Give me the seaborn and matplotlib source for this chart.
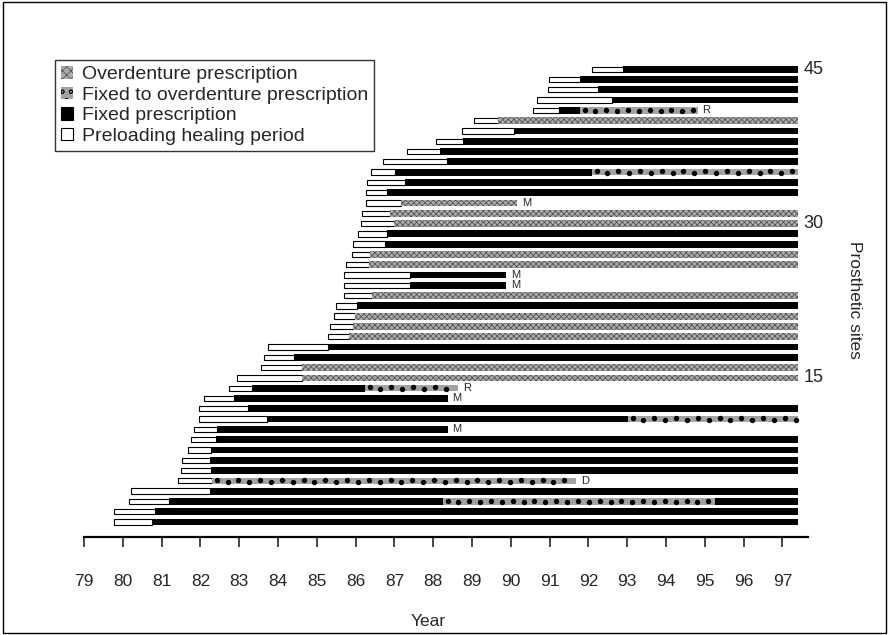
import matplotlib
matplotlib.use('Agg')
import matplotlib.pyplot as plt
from matplotlib.patches import Patch, Rectangle
import seaborn as sns
import pandas as pd
import numpy as np

# prosthetic sites, bottom (1) to top (45)
sites = list(range(1, 46))
preload_start = [79.77, 79.77, 80.16, 80.21, 81.42, 81.50, 81.53, 81.68, 81.76, 81.84,
                 81.96, 81.96, 82.09, 82.74, 82.94, 83.56, 83.64, 83.74, 85.29, 85.34,
                 85.44, 85.49, 85.70, 85.70, 85.70, 85.75, 85.91, 85.93, 86.06, 86.14,
                 86.16, 86.27, 86.27, 86.29, 86.40, 86.71, 87.32, 88.07, 88.74, 89.05,
                 90.57, 90.68, 90.96, 90.98, 92.09]
load_start = [80.75, 80.83, 81.19, 82.25, 82.30, 82.27, 82.25, 82.27, 82.40, 82.43,
              83.72, 83.23, 82.87, 83.33, 84.62, 84.62, 84.41, 85.29, 85.83, 85.93,
              85.98, 86.04, 86.42, 87.40, 87.40, 86.35, 86.37, 86.76, 86.81, 86.99,
              86.89, 87.17, 86.81, 87.27, 87.02, 88.36, 88.18, 88.77, 90.08, 89.67,
              91.24, 92.61, 92.25, 91.78, 92.89]
# F = fixed, O = overdenture, FO = fixed to overdenture
prescription = ['F', 'F', 'F/FO/F', 'F', 'FO', 'F', 'F', 'F', 'F', 'F',
                'F/FO', 'F', 'F', 'F/FO', 'O', 'O', 'F', 'F', 'O', 'O',
                'O', 'F', 'O', 'F', 'F', 'O', 'O', 'F', 'F', 'O',
                'O', 'O', 'F', 'F', 'F/FO', 'F', 'F', 'F', 'F', 'O',
                'F/FO', 'F', 'F', 'F', 'F']
change_years = {3: [88.25, 95.26], 11: [93.02], 14: [86.24], 35: [92.09], 41: [91.78]}
stop_year = {5: 91.68, 10: 88.38, 13: 88.38, 14: 88.64, 24: 89.88, 25: 89.88,
             32: 90.16, 41: 94.82}
stop_reason = {5: 'D', 10: 'M', 13: 'M', 14: 'R', 24: 'M', 25: 'M', 32: 'M', 41: 'R'}
study_end = 97.4

years = list(range(79, 98))
site_ticks = [15, 30, 45]
legend_labels = ['Overdenture prescription', 'Fixed to overdenture prescription',
                 'Fixed prescription', 'Preloading healing period']

# long table of segments
rows = []
for i, s in enumerate(sites):
    rows.append((s, 'P', preload_start[i], load_start[i]))
    kinds = prescription[i].split('/')
    bounds = [load_start[i]] + change_years.get(s, []) + [stop_year.get(s, study_end)]
    for k, kind in enumerate(kinds):
        rows.append((s, kind, bounds[k], bounds[k + 1]))
seg = pd.DataFrame(rows, columns=['site', 'kind', 'start', 'end'])

styles = {
    'P': dict(facecolor='white', edgecolor='black', hatch=None, height=0.52, lw=0.8),
    'O': dict(facecolor='#ababab', edgecolor='#4a4a4a', hatch='xxxxxx', height=0.66, lw=0),
    'FO': dict(facecolor='#a2a2a2', edgecolor='#8a8a8a', hatch=None, height=0.62, lw=0),
    'F': dict(facecolor='black', edgecolor='black', hatch=None, height=0.66, lw=0),
}

sns.set_style('white')
plt.rcParams['font.family'] = ['Liberation Sans', 'DejaVu Sans']
plt.rcParams['hatch.linewidth'] = 0.5

fig = plt.figure(figsize=(8.89, 6.35), dpi=100)
ax = fig.add_axes([84 / 889, 1 - 537 / 635, (808 - 84) / 889, (537 - 62) / 635])

for kind in ['P', 'O', 'F', 'FO']:
    d = seg[seg['kind'] == kind]
    st = styles[kind]
    ax.barh(d['site'], d['end'] - d['start'], left=d['start'], height=st['height'],
            color=st['facecolor'], edgecolor=st['edgecolor'], hatch=st['hatch'],
            linewidth=st['lw'])

# black dots along the fixed-to-overdenture segments
fo = seg[seg['kind'] == 'FO']
for _, r in fo.iterrows():
    xs = np.arange(r['start'] + 0.12, r['end'] - 0.06, 0.28)
    ys = r['site'] + np.where(np.arange(len(xs)) % 2 == 0, 0.08, -0.08)
    sns.scatterplot(x=xs, y=ys, ax=ax, color='black', s=15, marker='o',
                    edgecolor='black', linewidth=0, legend=False, zorder=3)

for s, r in stop_reason.items():
    ax.text(stop_year[s] + 0.12, s, r, fontsize=8, va='center', ha='left')

for s in site_ticks:
    ax.text(97.55, s, str(s), fontsize=13, va='center', ha='left')

ax.set_xlim(79.0, 97.66)
ax.set_ylim(-0.46, 45.7)
ax.set_xticks(years)
ax.set_xticklabels([str(y) for y in years])
ax.set_yticks([])
ax.set_xlabel('')
ax.set_ylabel('')
ax.tick_params(axis='x', direction='out', length=7, width=1.2, pad=20, labelsize=12.5,
               bottom=True)
for side in ['left', 'right', 'top']:
    ax.spines[side].set_visible(False)
ax.spines['bottom'].set_linewidth(1.6)
ax.spines['bottom'].set_color('black')

fig.text(428 / 889, 1 - 622 / 635, 'Year', ha='center', va='center', fontsize=12.5)
fig.text(855 / 889, 1 - 300 / 635, 'Prosthetic sites', rotation=270,
         ha='center', va='center', fontsize=12.5)

handles = [Patch(facecolor=styles['O']['facecolor'], edgecolor=styles['O']['edgecolor'],
                 hatch='xxxx', linewidth=0),
           Patch(facecolor='#a2a2a2', edgecolor='black', hatch='oo', linewidth=0),
           Patch(facecolor='black', edgecolor='black', linewidth=0.8),
           Patch(facecolor='white', edgecolor='black', linewidth=0.8)]
leg = fig.legend(handles, legend_labels, loc='upper left', bbox_to_anchor=(55 / 889, 1 - 60 / 635),
                 fontsize=14, frameon=True, fancybox=False, edgecolor='black',
                 handlelength=0.6, handleheight=0.6, handletextpad=0.45,
                 labelspacing=0.18, borderpad=0.32, borderaxespad=0)
leg.get_frame().set_linewidth(1.0)

fig.patches.append(Rectangle((0.003, 0.003), 0.994, 0.994, transform=fig.transFigure,
                             fill=False, edgecolor='black', linewidth=1.0))

fig.savefig('out.png', dpi=100)
